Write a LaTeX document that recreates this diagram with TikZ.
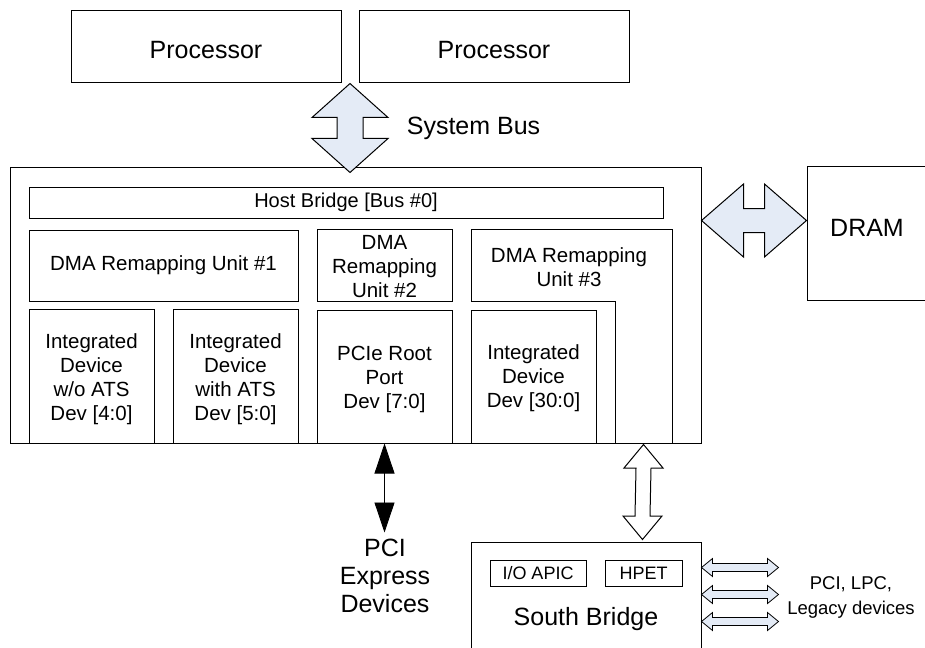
\documentclass[tikz,border=0pt]{standalone}
\usepackage{fontspec}
\setmainfont{Liberation Sans}
\usetikzlibrary{calc,arrows.meta}
\definecolor{busfill}{RGB}{228,235,246}
\newcommand\dblarrowV[6]{%
 \path[#6] (#1) -- ($(#1)+(#3,#5)$) -- ($(#1)+(#4,#5)$) -- ($(#2)+(#4,-#5)$) -- ($(#2)+(#3,-#5)$) -- (#2) -- ($(#2)+(-#3,-#5)$) -- ($(#2)+(-#4,-#5)$) -- ($(#1)+(-#4,#5)$) -- ($(#1)+(-#3,#5)$) -- cycle;}
\newcommand\dblarrowH[6]{%
 \path[#6] (#1) -- ($(#1)+(#5,-#3)$) -- ($(#1)+(#5,-#4)$) -- ($(#2)+(-#5,-#4)$) -- ($(#2)+(-#5,-#3)$) -- (#2) -- ($(#2)+(-#5,#3)$) -- ($(#2)+(-#5,#4)$) -- ($(#1)+(#5,#4)$) -- ($(#1)+(#5,#3)$) -- cycle;}
\newcommand\leadstrut[1]{\rule{0pt}{#1pt}}
\begin{document}
\begin{tikzpicture}[x=1pt,y=-1pt,line width=1pt,
  box/.style 2 args={draw, inner sep=0pt, align=center, minimum width=#1pt, minimum height=#2pt, font=\fontsize{20.5}{24}\selectfont},
  big/.style={font=\fontsize{25}{28}\selectfont},
  mid/.style={font=\fontsize{20.5}{24}\selectfont, align=center},
  small/.style={font=\fontsize{18}{22}\selectfont},
  busarrow/.style={draw, fill=busfill, line join=miter},
  whitearrow/.style={draw, fill=white, line join=miter}]
\useasboundingbox (0,0) rectangle (925,647);
\clip (0,0) rectangle (925,647);
\fill[white] (0,0) rectangle (925,647);

% processors
\node[box={270}{72}, big] (p1) at (206,47) {\leadstrut{24}Processor};
\node[box={270}{72}, big] (p2) at (494,47) {\leadstrut{24}Processor};

% chipset
\node[box={691}{275}] (chip) at (355.5,305.5) {};
\node[box={634}{31}, font=\fontsize{20}{24}\selectfont] (hb) at (346,202.5) {Host Bridge [Bus \#0]};
\node[box={269}{71}] (dma1) at (163.5,265.5) {DMA Remapping Unit \#1};
\node[box={125}{134}] (id1) at (91.5,376) {\leadstrut{21}Integrated\\Device\\w/o ATS\\Dev [4:0]};
\node[box={125}{134}] (id2) at (235.5,376) {\leadstrut{21}Integrated\\Device\\with ATS\\Dev [5:0]};
\node[box={135}{72}] (dma2) at (384.5,265) {\leadstrut{17}DMA\\Remapping\\Unit \#2};
\node[box={135}{133}] (pcie) at (384.5,376.5) {\leadstrut{20}PCIe Root\\Port\\Dev [7:0]};
\draw (471,229) -- (672,229) -- (672,443) -- (615,443) -- (615,301) -- (471,301) -- cycle;
\node[mid] (dma3) at (569,267) {DMA Remapping\\Unit \#3};
\node[box={125}{133}] (id3) at (533.5,376.5) {\leadstrut{19}Integrated\\Device\\Dev [30:0]};

% DRAM
\node[box={138}{133}] (dram) at (876,233.5) {};
\node[big, anchor=base] (dramlbl) at (867,236) {DRAM};

% South bridge
\node[box={230}{123}] (sb) at (586,603.5) {};
\node[box={96}{26}, small] (ioapic) at (538,573) {I/O APIC};
\node[box={77}{26}, small] (hpet) at (643.5,573) {HPET};
\node[big, anchor=base] (sblbl) at (586,625) {South Bridge};

% labels
\node[big, anchor=base west] (sbus) at (403,135) {System Bus};
\node[big, align=center] (pcid) at (385,576) {PCI\\Express\\Devices};
\node[font=\fontsize{18.5}{25}\selectfont, align=center] (legacy) at (851,597) {PCI, LPC,\\Legacy devices};

% system bus arrow
\coordinate (sbT) at ($(p1.south east)!0.5!(p2.south west)$);
\coordinate (sbB) at ($(sbT |- chip.north)+(0,5)$);
\dblarrowV{sbT}{sbB}{38}{13}{34}{busarrow}

% DRAM arrow
\coordinate (dL) at ($(chip.north east)+(0,53)$);
\coordinate (dR) at ($(dram.north west)+(0,54)$);
\dblarrowH{dL}{dR}{36.5}{12}{42}{busarrow}

% south bridge arrow
\coordinate (sT) at ($(chip.south east)+(-58,1)$);
\coordinate (sB) at ($(sb.north west)+(172,-2)$);
\dblarrowV{sT}{sB}{19.5}{7.5}{23.5}{whitearrow}

% legacy arrows
\coordinate (la1) at ($(sb.north east)+(0,26)$);
\coordinate (la2) at ($(sb.north east)+(0,53)$);
\coordinate (la3) at ($(sb.north east)+(0,80)$);
\coordinate (ra1) at ($(la1)+(77,0)$);
\coordinate (ra2) at ($(la2)+(77,0)$);
\coordinate (ra3) at ($(la3)+(77,0)$);
\dblarrowH{la1}{ra1}{9}{4}{11}{busarrow, line width=0.8pt}
\dblarrowH{la2}{ra2}{9}{4}{11}{busarrow, line width=0.8pt}
\dblarrowH{la3}{ra3}{9}{4}{11}{busarrow, line width=0.8pt}

% PCIe arrow
\coordinate (pcieE) at ($(pcie.south)+(0,89)$);
\draw[line width=0.8pt, {Triangle[length=30pt,width=20pt]}-{Triangle[length=30pt,width=20pt]}] (pcie.south) -- (pcieE);
\end{tikzpicture}
\end{document}
